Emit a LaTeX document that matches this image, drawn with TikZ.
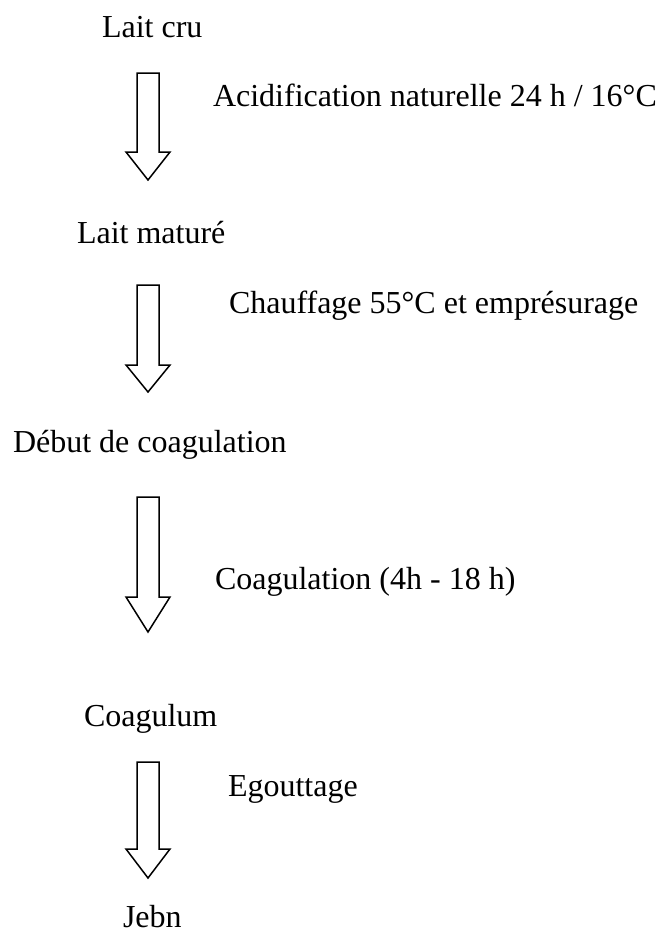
\documentclass[tikz,border=0pt]{standalone}
\usepackage{fontspec}
\setmainfont{Liberation Serif}
\begin{document}
\begin{tikzpicture}[x=1pt,y=-1pt,
  lbl/.style={anchor=base west,inner sep=0pt,outer sep=0pt,font=\fontsize{32}{38}\selectfont},
  blockarrow/.style={draw=black,line width=1.5pt,fill=white,line join=miter}]
\useasboundingbox (0,0) rectangle (659,935);
% stage labels
\node[lbl] (s1) at (102,37) {Lait cru};
\node[lbl] (s2) at (77,243) {Lait maturé};
\node[lbl] (s3) at (13,452) {Début de coagulation};
\node[lbl] (s4) at (84,726) {Coagulum};
\node[lbl] (s5) at (123,927) {Jebn};
% step labels
\node[lbl] (t1) at (213,106) {Acidification naturelle 24 h / 16°C};
\node[lbl] (t2) at (229,313) {Chauffage 55°C et emprésurage};
\node[lbl] (t3) at (215,589) {Coagulation (4h - 18 h)};
\node[lbl] (t4) at (228,796) {Egouttage};
% block arrows: top / head base / tip
\foreach \t/\b/\p in {73/152/180, 285/365/392, 497/597/632, 762/849/878}{
  \draw[blockarrow] (137,\t) -- (159,\t) -- (159,\b) -- (170,\b) -- (148,\p)
     -- (126,\b) -- (137,\b) -- cycle;
}
\end{tikzpicture}
\end{document}
